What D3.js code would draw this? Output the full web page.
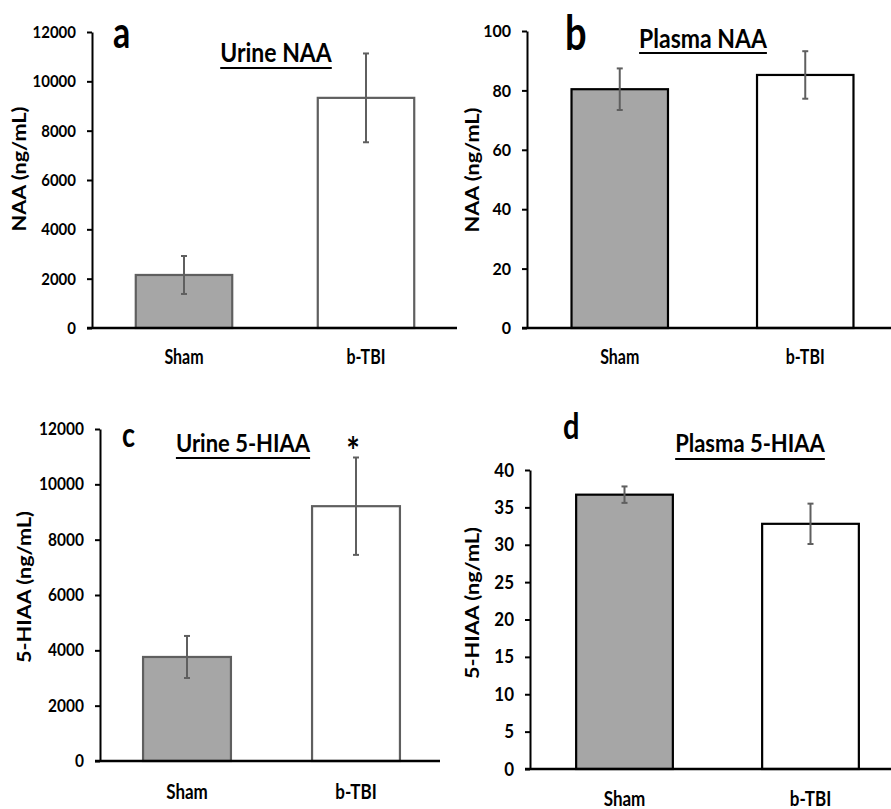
<!DOCTYPE html>
<html>
<head>
<meta charset="utf-8">
<script src="https://cdn.jsdelivr.net/npm/d3@7"></script>
<style>
  body { margin: 0; background: #fff; }
  svg text { font-family: Lato, "Open Sans", sans-serif; font-weight: bold; fill: #000; }
</style>
</head>
<body>
<div id="chart"></div>
<script>
// data
const categories = ["Sham", "b-TBI"];

const urineNAA = [2150, 9330];
const urineNAAErr = [770, 1800];
const plasmaNAA = [80.4, 85.2];
const plasmaNAAErr = [7.0, 8.0];
const urineHIAA = [3760, 9210];
const urineHIAAErr = [760, 1760];
const plasmaHIAA = [36.7, 32.8];
const plasmaHIAAErr = [1.1, 2.7];

const urineTicks = [0, 2000, 4000, 6000, 8000, 10000, 12000];
const naaTicks = [0, 20, 40, 60, 80, 100];
const hiaaTicks = [0, 5, 10, 15, 20, 25, 30, 35, 40];

const panelLetters = ["a", "b", "c", "d"];
const panelTitles = ["Urine NAA", "Plasma NAA", "Urine 5-HIAA", "Plasma 5-HIAA"];
const yLabels = ["NAA (ng/mL)", "NAA (ng/mL)", "5-HIAA (ng/mL)", "5-HIAA (ng/mL)"];
const signif = [[], [], ["", "*"], []];

const W = 891, H = 809;

// layout of each panel (pixel positions)
// the original text is tall and narrow, so every label gets a vertical stretch
let layout = [
    {axisX: 92, top: 32, bottom: 328, band: [93, 457], end: 457, pad: 0.47,
     letter: [113, 48, 34], title: [276, 62, 23, 68], yLab: [20, 169, 18], xLabY: 364, xLabSize: 16, tickSize: 15,
     stroke: "#5f5f5f"},
    {axisX: 527, top: 31, bottom: 328, band: [527, 898], end: 891, pad: 0.48,
     letter: [565, 50, 38], title: [703, 48, 23, 53], yLab: [473, 170, 18], xLabY: 364, xLabSize: 16, tickSize: 16,
     stroke: "#000"},
    {axisX: 100, top: 429, bottom: 761, band: [102.5, 440.5], end: 440, pad: 0.48,
     letter: [122, 447, 27], title: [243, 452, 22, 458], yLab: [25, 587, 18], xLabY: 799, xLabSize: 17, tickSize: 15.5,
     stroke: "#5f5f5f"},
    {axisX: 530, top: 470, bottom: 769, band: [531.5, 903.5], end: 891, pad: 0.48,
     letter: [563, 439, 29], title: [750, 452, 22, 459], yLab: [473, 603, 18], xLabY: 806, xLabSize: 17, tickSize: 17,
     stroke: "#000"}
];

const stretch = {tick: 1.12, title: 1.15, letter: 1.28, xLab: 1.25, yLab: 1.2, star: 1.2};

let series = [urineNAA, plasmaNAA, urineHIAA, plasmaHIAA];
let errors = [urineNAAErr, plasmaNAAErr, urineHIAAErr, plasmaHIAAErr];
let tickSets = [urineTicks, naaTicks, urineTicks, hiaaTicks];
let barFill = ["#a6a6a6", "#fff"];
let errColor = "#5f5f5f";

let svg = d3.select("#chart").append("svg")
    .attr("width", W)
    .attr("height", H);

layout.forEach((L, i) => {
    let g = svg.append("g").attr("class", "panel-" + panelLetters[i]);
    let ticks = tickSets[i];

    let y = d3.scaleLinear()
        .domain([0, d3.max(ticks)])
        .range([L.bottom, L.top]);

    let x = d3.scaleBand()
        .domain(categories)
        .range(L.band)
        .paddingInner(L.pad)
        .paddingOuter(L.pad / 2);

    let rows = categories.map((c, k) => ({cat: c, v: series[i][k], e: errors[i][k], star: signif[i][k] || ""}));

    // bars
    g.selectAll("rect.bar")
        .data(rows)
        .enter()
        .append("rect")
        .attr("class", "bar")
        .attr("x", d => x(d.cat))
        .attr("width", x.bandwidth())
        .attr("y", d => y(d.v))
        .attr("height", d => L.bottom - y(d.v))
        .attr("fill", (d, k) => barFill[k])
        .attr("stroke", L.stroke)
        .attr("stroke-width", 2.2);

    // error bars
    let eb = g.selectAll("g.err")
        .data(rows)
        .enter()
        .append("g")
        .attr("class", "err")
        .attr("stroke", errColor)
        .attr("stroke-width", 2);
    eb.append("line")
        .attr("x1", d => x(d.cat) + x.bandwidth() / 2)
        .attr("x2", d => x(d.cat) + x.bandwidth() / 2)
        .attr("y1", d => y(d.v - d.e))
        .attr("y2", d => y(d.v + d.e));
    [-1, 1].forEach(s => {
        eb.append("line")
            .attr("x1", d => x(d.cat) + x.bandwidth() / 2 - 3)
            .attr("x2", d => x(d.cat) + x.bandwidth() / 2 + 3)
            .attr("y1", d => y(d.v + s * d.e))
            .attr("y2", d => y(d.v + s * d.e));
    });

    // significance mark
    g.selectAll("text.star")
        .data(rows.filter(d => d.star))
        .enter()
        .append("text")
        .attr("class", "star")
        .attr("transform", d => `translate(${x(d.cat) + x.bandwidth() / 2 - 3},${y(d.v + d.e) + 8}) scale(1,${stretch.star})`)
        .attr("text-anchor", "middle")
        .style("font-size", "32px")
        .text(d => d.star);

    // y axis
    let yAxis = g.append("g")
        .attr("transform", `translate(${L.axisX},0)`)
        .call(d3.axisLeft(y)
            .tickValues(ticks)
            .tickSize(5)
            .tickSizeOuter(0)
            .tickPadding(11)
            .tickFormat(d3.format("d")));
    yAxis.select(".domain").attr("stroke", "#000").attr("stroke-width", 2);
    yAxis.selectAll(".tick line").attr("stroke", "#000").attr("stroke-width", 2);
    yAxis.selectAll(".tick text")
        .attr("transform", `scale(1,${stretch.tick})`)
        .style("font-family", "Lato, 'Open Sans', sans-serif")
        .style("font-weight", "bold")
        .style("font-size", L.tickSize + "px");

    // x axis (labels only, the base line is drawn below)
    let xAxis = g.append("g")
        .attr("transform", `translate(0,${L.bottom})`)
        .call(d3.axisBottom(x).tickSize(0));
    xAxis.select(".domain").remove();
    xAxis.selectAll(".tick text")
        .attr("y", 0)
        .attr("dy", 0)
        .attr("transform", `translate(0,${L.xLabY - L.bottom}) scale(1,${stretch.xLab})`)
        .style("font-family", "Lato, 'Open Sans', sans-serif")
        .style("font-weight", "bold")
        .style("font-size", L.xLabSize + "px");

    g.append("line")
        .attr("x1", L.axisX - 5)
        .attr("x2", L.end)
        .attr("y1", L.bottom)
        .attr("y2", L.bottom)
        .attr("stroke", "#000")
        .attr("stroke-width", 2.5);

    // y label
    g.append("text")
        .attr("transform", `translate(${L.yLab[0]},${L.yLab[1]}) scale(1,${stretch.yLab}) rotate(-90)`)
        .attr("text-anchor", "middle")
        .attr("dy", "0.35em")
        .style("font-size", L.yLab[2] + "px")
        .text(yLabels[i]);

    // panel letter
    g.append("text")
        .attr("transform", `translate(${L.letter[0]},${L.letter[1]}) scale(1,${stretch.letter})`)
        .style("font-size", L.letter[2] + "px")
        .text(panelLetters[i]);

    // underlined title
    let t = g.append("text")
        .attr("transform", `translate(${L.title[0]},${L.title[1]}) scale(1,${stretch.title})`)
        .attr("text-anchor", "middle")
        .style("font-size", L.title[2] + "px")
        .text(panelTitles[i]);
    let tw = t.node().getComputedTextLength();
    g.append("line")
        .attr("x1", L.title[0] - tw / 2)
        .attr("x2", L.title[0] + tw / 2)
        .attr("y1", L.title[3])
        .attr("y2", L.title[3])
        .attr("stroke", "#000")
        .attr("stroke-width", 2);
});
</script>
</body>
</html>
